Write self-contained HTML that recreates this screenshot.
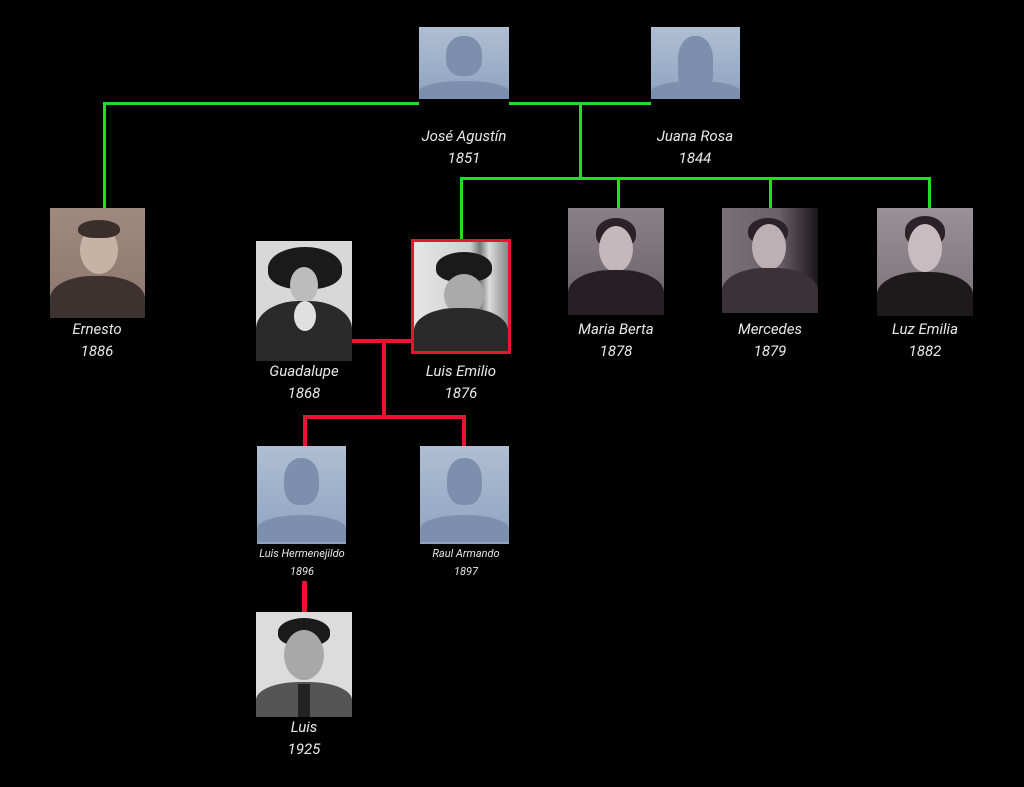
<!DOCTYPE html>
<html><head><meta charset="utf-8"><style>
body{margin:0;width:1024px;height:787px;background:#000;position:relative;overflow:hidden;font-family:"Roboto","Liberation Sans",sans-serif}
.g{position:absolute;background:#1fe01f}
.r{position:absolute;background:#ec1234}
.ph{position:absolute;overflow:hidden}
.ph .h{position:absolute;border-radius:50%}
.ph .b{position:absolute;border-radius:45% 45% 0 0}
.ph .hair{position:absolute;border-radius:50% 50% 40% 40%}
.pl{background:linear-gradient(#aebfd4,#8fa3bf)}
.pl .h{background:#7c90ad;width:40%;height:56%;left:30%;top:12%;border-radius:45% 45% 40% 40%}
.pl .b{background:#7c90ad;width:100%;height:28%;left:0;top:75%;border-radius:50% 50% 0 0}
.lb{position:absolute;color:#e8e8e8;font-style:italic;font-size:15px;text-align:center;width:160px;line-height:22px}
.sm{font-size:11px;line-height:18px}
</style></head><body>
<!-- green lines -->
<div class="g" style="left:103px;top:102px;width:316px;height:3px"></div>
<div class="g" style="left:509px;top:102px;width:142px;height:3px"></div>
<div class="g" style="left:103px;top:102px;width:3px;height:106px"></div>
<div class="g" style="left:579px;top:102px;width:3px;height:77px"></div>
<div class="g" style="left:460px;top:177px;width:471px;height:3px"></div>
<div class="g" style="left:460px;top:177px;width:3px;height:62px"></div>
<div class="g" style="left:617px;top:177px;width:3px;height:31px"></div>
<div class="g" style="left:769px;top:177px;width:3px;height:31px"></div>
<div class="g" style="left:928px;top:177px;width:3px;height:31px"></div>
<!-- red lines -->
<div class="r" style="left:352px;top:339px;width:60px;height:4px"></div>
<div class="r" style="left:382px;top:339px;width:4px;height:80px"></div>
<div class="r" style="left:303px;top:415px;width:163px;height:4px"></div>
<div class="r" style="left:303px;top:415px;width:4px;height:31px"></div>
<div class="r" style="left:462px;top:415px;width:4px;height:31px"></div>
<div class="r" style="left:302px;top:581px;width:5px;height:31px"></div>

<!-- placeholders -->
<div class="ph pl" style="left:419px;top:27px;width:90px;height:72px"><div class="h"></div><div class="b"></div></div>
<div class="ph pl" style="left:651px;top:27px;width:89px;height:72px"><div class="h" style="border-radius:45% 45% 20% 20%;height:70%"></div><div class="b"></div></div>
<div class="ph pl" style="left:257px;top:446px;width:89px;height:98px"><div class="h" style="height:48%"></div><div class="b" style="top:70%"></div></div>
<div class="ph pl" style="left:420px;top:446px;width:89px;height:98px"><div class="h" style="height:48%"></div><div class="b" style="top:70%"></div></div>

<!-- photos -->
<div class="ph" style="left:50px;top:208px;width:95px;height:110px;background:linear-gradient(#a08a80,#8a766c)">
 <div class="h" style="left:30px;top:18px;width:38px;height:48px;background:#c8b2a4"></div>
 <div class="hair" style="left:28px;top:12px;width:42px;height:18px;background:#3a2e2a"></div>
 <div class="b" style="left:0;top:68px;width:95px;height:50px;background:#3e3230"></div>
</div>
<div class="ph" style="left:256px;top:241px;width:96px;height:120px;background:#d8d8d8">
 <div class="hair" style="left:12px;top:6px;width:74px;height:42px;background:#1a1a1a"></div>
 <div class="h" style="left:34px;top:26px;width:28px;height:36px;background:#bcbcbc"></div>
 <div class="b" style="left:0;top:60px;width:96px;height:62px;background:#2a2a2a"></div>
 <div class="h" style="left:38px;top:60px;width:22px;height:30px;background:#e0e0e0"></div>
</div>
<div class="ph" style="left:411px;top:239px;width:94px;height:109px;border:3px solid #ec1234;background:linear-gradient(90deg,#e6e6e6,#d0d0d0 60%,#777 70%,#ddd 80%,#888)">
 <div class="hair" style="left:22px;top:10px;width:56px;height:30px;background:#1a1a1a"></div>
 <div class="h" style="left:30px;top:32px;width:40px;height:42px;background:#aaa"></div>
 <div class="b" style="left:0;top:66px;width:94px;height:50px;background:#2a2a2a"></div>
</div>
<div class="ph" style="left:568px;top:208px;width:96px;height:107px;background:linear-gradient(#8a8088,#6a6068)">
 <div class="hair" style="left:28px;top:10px;width:40px;height:30px;background:#2a2226"></div>
 <div class="h" style="left:31px;top:18px;width:34px;height:46px;background:#c4b8bc"></div>
 <div class="b" style="left:0;top:62px;width:96px;height:50px;background:#262024"></div>
</div>
<div class="ph" style="left:722px;top:208px;width:96px;height:105px;background:linear-gradient(90deg,#7a7078,#6a6068 60%,#1a1618)">
 <div class="hair" style="left:26px;top:10px;width:40px;height:26px;background:#2a2226"></div>
 <div class="h" style="left:30px;top:16px;width:34px;height:46px;background:#bcb0b4"></div>
 <div class="b" style="left:0;top:60px;width:96px;height:50px;background:#3a3236"></div>
</div>
<div class="ph" style="left:877px;top:208px;width:96px;height:108px;background:linear-gradient(#9a9098,#7a7078)">
 <div class="hair" style="left:28px;top:8px;width:40px;height:30px;background:#2a2226"></div>
 <div class="h" style="left:31px;top:16px;width:34px;height:48px;background:#c8bcc0"></div>
 <div class="b" style="left:0;top:64px;width:96px;height:50px;background:#1e1a1c"></div>
</div>
<div class="ph" style="left:256px;top:612px;width:96px;height:105px;background:#dcdcdc">
 <div class="hair" style="left:22px;top:6px;width:52px;height:28px;background:#1a1a1a"></div>
 <div class="h" style="left:28px;top:18px;width:40px;height:50px;background:#a8a8a8"></div>
 <div class="b" style="left:0;top:70px;width:96px;height:40px;background:#555"></div>
 <div style="position:absolute;left:42px;top:72px;width:12px;height:33px;background:#222"></div>
</div>

<!-- labels -->
<div class="lb" style="left:384px;top:125px">José Agustín<br>1851</div>
<div class="lb" style="left:615px;top:125px">Juana Rosa<br>1844</div>
<div class="lb" style="left:17px;top:318px">Ernesto<br>1886</div>
<div class="lb" style="left:224px;top:360px">Guadalupe<br>1868</div>
<div class="lb" style="left:381px;top:360px">Luis Emilio<br>1876</div>
<div class="lb" style="left:536px;top:318px">Maria Berta<br>1878</div>
<div class="lb" style="left:690px;top:318px">Mercedes<br>1879</div>
<div class="lb" style="left:845px;top:318px">Luz Emilia<br>1882</div>
<div class="lb sm" style="left:222px;top:545px">Luis Hermenejildo<br>1896</div>
<div class="lb sm" style="left:386px;top:545px">Raul Armando<br>1897</div>
<div class="lb" style="left:224px;top:716px">Luis<br>1925</div>
</body></html>
